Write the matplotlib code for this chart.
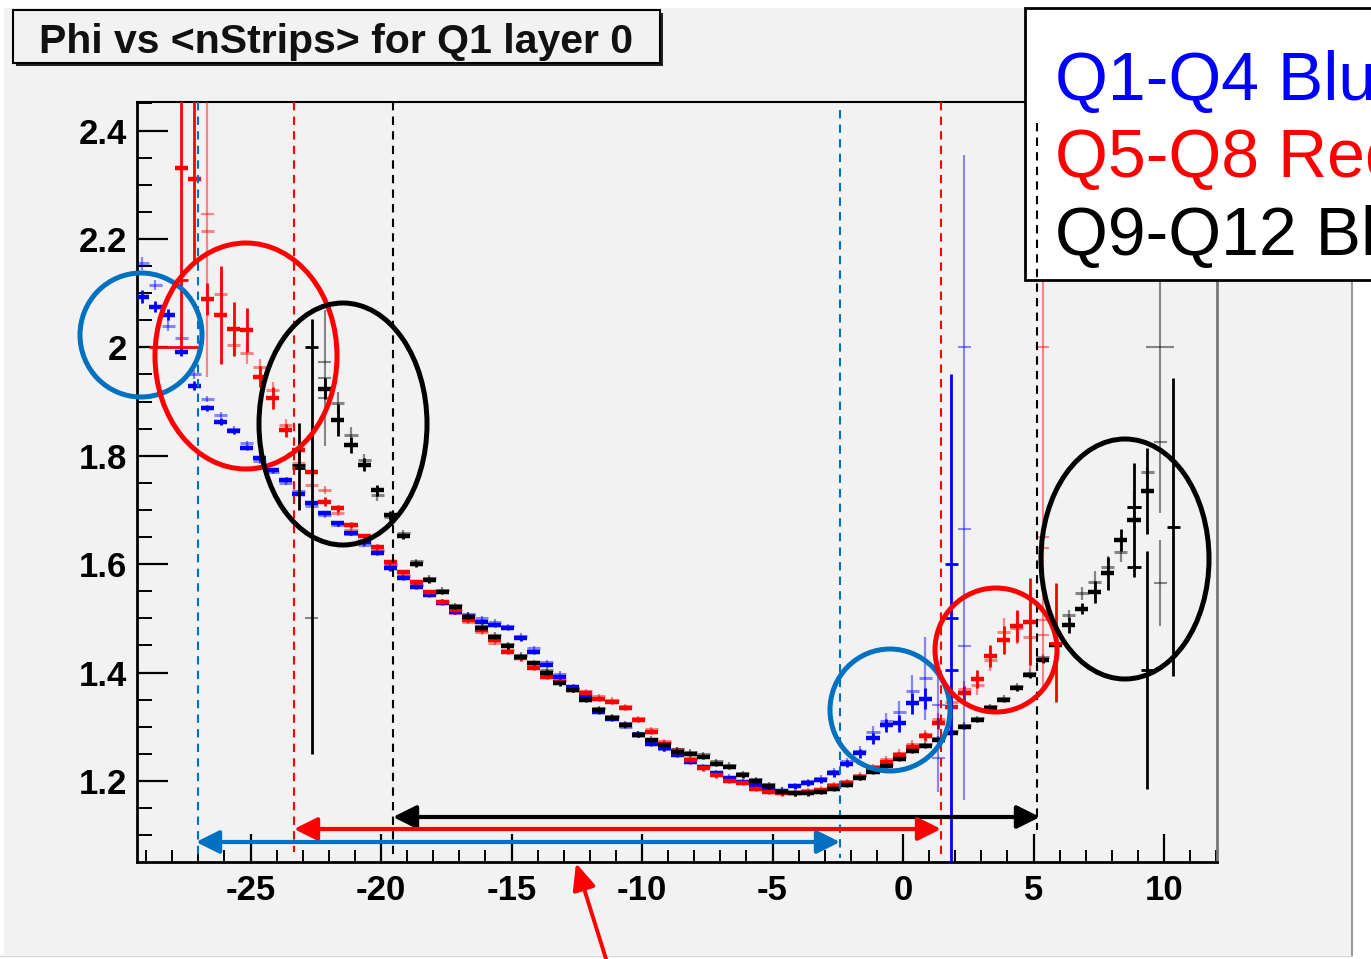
import numpy as np
import matplotlib
matplotlib.use("Agg")
import matplotlib.pyplot as plt
import matplotlib.transforms as mtransforms
from matplotlib.patches import Rectangle, Ellipse, FancyArrowPatch
from matplotlib.lines import Line2D
from matplotlib.ticker import FuncFormatter, MultipleLocator

plt.rcParams['font.family'] = ['Liberation Sans', 'DejaVu Sans']
plt.rcParams['axes.unicode_minus'] = False

# ---------------- data ----------------
title_text = "Phi vs <nStrips> for Q1 layer 0"
legend_labels = ["Q1-Q4 Blue", "Q5-Q8 Red", "Q9-Q12 Black"]
x_ticks = [-25, -20, -15, -10, -5, 0, 5, 10]
y_ticks = [1.2, 1.4, 1.6, 1.8, 2.0, 2.2, 2.4]

# profile bin centres (bin width 0.5)
phi_bins = np.round(np.arange(-29.15, 11.0, 0.5), 2)

# Blue (Q1-Q4) main profile, bins 0..60
blue_start = 0
blue_a = [2.093, 2.075, 2.060, 1.992, 1.929, 1.888, 1.863, 1.845, 1.815, 1.796,
          1.774, 1.756, 1.730, 1.712, 1.694, 1.675, 1.657, 1.640, 1.620, 1.592,
          1.574, 1.558, 1.543, 1.528, 1.512, 1.503, 1.494, 1.488, 1.482, 1.463,
          1.438, 1.414, 1.392, 1.374, 1.355, 1.328, 1.315, 1.303, 1.285, 1.269,
          1.260, 1.248, 1.235, 1.225, 1.214, 1.205, 1.198, 1.192, 1.186, 1.181,
          1.190, 1.196, 1.201, 1.214, 1.232, 1.251, 1.279, 1.303, 1.306, 1.343,
          1.352]
blue_a_err = [0.012, 0.010, 0.010, 0.008, 0.008, 0.006, 0.006, 0.005, 0.005, 0.005,
              0.004, 0.004, 0.004, 0.004, 0.004, 0.004, 0.004, 0.004, 0.004, 0.004,
              0.004, 0.004, 0.004, 0.004, 0.004, 0.004, 0.004, 0.004, 0.004, 0.004,
              0.004, 0.004, 0.004, 0.004, 0.004, 0.004, 0.004, 0.004, 0.004, 0.004,
              0.004, 0.004, 0.004, 0.004, 0.004, 0.004, 0.004, 0.004, 0.004, 0.004,
              0.004, 0.005, 0.005, 0.006, 0.007, 0.008, 0.010, 0.012, 0.015, 0.020,
              0.020]
blue_b = [2.155, 2.115, 2.040, 2.017, 1.950, 1.905, 1.875, 1.850, 1.823, 1.790,
          1.770, 1.750, 1.735, 1.708, 1.690, 1.672, 1.655, 1.635, 1.625, 1.598,
          1.578, 1.562, 1.547, 1.532, 1.516, 1.508, 1.500, 1.494, 1.486, 1.468,
          1.445, 1.420, 1.398, 1.370, 1.360, 1.332, 1.318, 1.300, 1.288, 1.272,
          1.258, 1.250, 1.238, 1.228, 1.216, 1.208, 1.200, 1.195, 1.188, 1.184,
          1.192, 1.199, 1.205, 1.218, 1.236, 1.256, 1.290, 1.310, 1.328, 1.365,
          1.389]
blue_b_err = [0.012, 0.010, 0.010, 0.008, 0.008, 0.006, 0.006, 0.005, 0.005, 0.005,
              0.004, 0.004, 0.004, 0.004, 0.004, 0.004, 0.004, 0.004, 0.004, 0.004,
              0.004, 0.004, 0.004, 0.004, 0.004, 0.004, 0.004, 0.004, 0.004, 0.004,
              0.004, 0.004, 0.004, 0.004, 0.004, 0.004, 0.004, 0.004, 0.004, 0.004,
              0.004, 0.004, 0.004, 0.004, 0.004, 0.004, 0.004, 0.004, 0.004, 0.004,
              0.004, 0.005, 0.005, 0.006, 0.007, 0.008, 0.012, 0.015, 0.020, 0.030,
              0.077]
# sparse blue bins with large errors
blue_ex_phi = [1.35, 1.35, 1.85, 1.85, 1.85, 2.35, 2.35, 2.35]
blue_ex_val = [1.340, 1.242, 1.500, 1.600, 1.405, 1.665, 2.000, 1.448]
blue_ex_lo = [0.160, 0.000, 0.450, 0.000, 0.000, 0.500, 0.000, 0.000]
blue_ex_hi = [0.080, 0.000, 0.450, 0.000, 0.000, 0.690, 0.000, 0.000]
blue_ex_dark = [False, False, True, True, True, False, False, False]

# Red (Q5-Q8) main profile, bins 3..68
red_start = 3
red_a = [2.330, 2.310, 2.089, 2.060, 2.034, 2.032, 1.946, 1.906, 1.847, 1.810,
         1.770, 1.715, 1.703, 1.672, 1.651, 1.632, 1.604, 1.586, 1.567, 1.549,
         1.531, 1.515, 1.497, 1.478, 1.460, 1.438, 1.426, 1.408, 1.392, 1.383,
         1.368, 1.362, 1.352, 1.346, 1.334, 1.312, 1.291, 1.269, 1.254, 1.239,
         1.223, 1.210, 1.200, 1.196, 1.186, 1.180, 1.177, 1.177, 1.180, 1.183,
         1.190, 1.197, 1.207, 1.223, 1.235, 1.248, 1.263, 1.282, 1.306, 1.337,
         1.362, 1.388, 1.430, 1.460, 1.486, 1.494]
red_a_err = [0.330, 0.150, 0.030, 0.090, 0.050, 0.040, 0.020, 0.020, 0.012, 0.010,
             0.008, 0.008, 0.006, 0.006, 0.005, 0.005, 0.004, 0.004, 0.004, 0.004,
             0.004, 0.004, 0.004, 0.004, 0.004, 0.004, 0.004, 0.004, 0.004, 0.004,
             0.004, 0.004, 0.004, 0.004, 0.004, 0.004, 0.004, 0.004, 0.004, 0.004,
             0.004, 0.004, 0.004, 0.004, 0.004, 0.004, 0.004, 0.004, 0.004, 0.004,
             0.004, 0.004, 0.005, 0.005, 0.006, 0.006, 0.007, 0.008, 0.010, 0.012,
             0.014, 0.016, 0.020, 0.025, 0.030, 0.080]
red_b_start = 5
red_b = [2.215, 2.098, 2.004, 1.990, 1.964, 1.921, 1.857, 1.786, 1.746, 1.737,
         1.694, 1.663, 1.641, 1.626, 1.600, 1.580, 1.562, 1.545, 1.528, 1.510,
         1.493, 1.474, 1.455, 1.442, 1.430, 1.412, 1.396, 1.388, 1.372, 1.366,
         1.357, 1.350, 1.338, 1.316, 1.295, 1.273, 1.258, 1.243, 1.226, 1.213,
         1.203, 1.199, 1.190, 1.183, 1.180, 1.180, 1.183, 1.186, 1.194, 1.200,
         1.211, 1.227, 1.240, 1.252, 1.268, 1.286, 1.315, 1.345, 1.370, 1.377,
         1.423, 1.475, 1.482, 1.466]
red_b_err = [0.270, 0.040, 0.020, 0.020, 0.015, 0.015, 0.010, 0.010, 0.008, 0.008,
             0.006, 0.006, 0.005, 0.005, 0.004, 0.004, 0.004, 0.004, 0.004, 0.004,
             0.004, 0.004, 0.004, 0.004, 0.004, 0.004, 0.004, 0.004, 0.004, 0.004,
             0.004, 0.004, 0.004, 0.004, 0.004, 0.004, 0.004, 0.004, 0.004, 0.004,
             0.004, 0.004, 0.004, 0.004, 0.004, 0.004, 0.004, 0.004, 0.004, 0.004,
             0.005, 0.005, 0.006, 0.006, 0.007, 0.008, 0.010, 0.012, 0.015, 0.018,
             0.020, 0.025, 0.030, 0.060]
red_ex_phi = [-27.95, -27.65, -26.65, 5.35, 5.35, 5.35, 5.35, 5.35, 5.85]
red_ex_val = [2.000, 2.124, 2.246, 2.000, 1.650, 1.629, 1.497, 1.469, 1.455]
red_ex_lo = [0.000, 0.000, 0.000, 0.632, 0.000, 0.000, 0.000, 0.000, 0.110]
red_ex_hi = [0.000, 0.000, 0.000, 0.600, 0.000, 0.000, 0.000, 0.000, 0.110]
red_ex_xerr = [0.95, 0.25, 0.25, 0.25, 0.25, 0.25, 0.25, 0.25, 0.25]
red_ex_dark = [True, True, False, False, False, False, False, False, True]

# Black (Q9-Q12) main profile, bins 14..77
black_start = 14
black_a = [1.924, 1.866, 1.820, 1.783, 1.736, 1.690, 1.652, 1.600, 1.571, 1.549,
           1.521, 1.503, 1.482, 1.466, 1.448, 1.429, 1.417, 1.400, 1.380, 1.368,
           1.350, 1.330, 1.316, 1.303, 1.285, 1.275, 1.266, 1.254, 1.250, 1.245,
           1.232, 1.226, 1.210, 1.200, 1.190, 1.180, 1.177, 1.177, 1.180, 1.186,
           1.192, 1.205, 1.217, 1.228, 1.240, 1.255, 1.265, 1.275, 1.288, 1.300,
           1.312, 1.334, 1.349, 1.371, 1.395, 1.423, 1.451, 1.488, 1.518, 1.549,
           1.583, 1.645, 1.681, 1.735]
black_a_err = [0.020, 0.030, 0.015, 0.012, 0.010, 0.008, 0.006, 0.005, 0.005, 0.004,
               0.004, 0.004, 0.004, 0.004, 0.004, 0.004, 0.004, 0.004, 0.004, 0.004,
               0.004, 0.004, 0.004, 0.004, 0.004, 0.004, 0.004, 0.004, 0.004, 0.004,
               0.004, 0.004, 0.004, 0.004, 0.004, 0.004, 0.004, 0.004, 0.004, 0.004,
               0.004, 0.004, 0.004, 0.004, 0.004, 0.004, 0.004, 0.004, 0.004, 0.004,
               0.004, 0.004, 0.004, 0.005, 0.005, 0.006, 0.008, 0.015, 0.010, 0.020,
               0.030, 0.020, 0.105, 0.080]
black_b_start = 15
black_b = [1.897, 1.838, 1.792, 1.727, 1.687, 1.657, 1.605, 1.575, 1.553, 1.525,
           1.507, 1.486, 1.470, 1.452, 1.433, 1.420, 1.404, 1.384, 1.372, 1.354,
           1.334, 1.320, 1.306, 1.289, 1.278, 1.270, 1.258, 1.254, 1.249, 1.236,
           1.230, 1.214, 1.204, 1.194, 1.184, 1.180, 1.180, 1.183, 1.190, 1.196,
           1.209, 1.221, 1.232, 1.245, 1.260, 1.268, 1.279, 1.292, 1.304, 1.316,
           1.338, 1.353, 1.375, 1.400, 1.428, 1.455, 1.506, 1.546, 1.567, 1.595,
           1.623, 1.706, 1.770]
black_b_err = [0.020, 0.015, 0.012, 0.010, 0.008, 0.006, 0.005, 0.005, 0.004, 0.004,
               0.004, 0.004, 0.004, 0.004, 0.004, 0.004, 0.004, 0.004, 0.004, 0.004,
               0.004, 0.004, 0.004, 0.004, 0.004, 0.004, 0.004, 0.004, 0.004, 0.004,
               0.004, 0.004, 0.004, 0.004, 0.004, 0.004, 0.004, 0.004, 0.004, 0.004,
               0.004, 0.004, 0.004, 0.004, 0.004, 0.004, 0.004, 0.004, 0.004, 0.004,
               0.004, 0.005, 0.005, 0.006, 0.006, 0.008, 0.010, 0.012, 0.020, 0.020,
               0.020, 0.030, 0.010]
black_ex_phi = [-23.15, -23.15, -22.65, -22.65, -22.15, -22.15, -22.15,
                8.85, 8.85, 9.35, 9.85, 9.85, 9.85, 10.35]
black_ex_val = [1.783, 1.777, 2.000, 1.500, 1.943, 1.973, 1.906,
                1.706, 1.595, 1.405, 2.000, 1.825, 1.565, 1.668]
black_ex_lo = [0.083, 0.000, 0.750, 0.000, 0.126, 0.000, 0.000,
               0.000, 0.000, 0.220, 0.306, 0.000, 0.080, 0.275]
black_ex_hi = [0.077, 0.000, 0.053, 0.000, 0.126, 0.000, 0.000,
               0.000, 0.000, 0.220, 0.600, 0.000, 0.080, 0.275]
black_ex_xerr = [0.25, 0.25, 0.25, 0.25, 0.25, 0.25, 0.25,
                 0.25, 0.25, 0.25, 0.55, 0.25, 0.25, 0.25]
black_ex_dark = [True, True, True, False, False, False, False,
                 True, True, True, False, False, False, True]

# ---------------- figure ----------------
W, H = 1371, 959
fig = plt.figure(figsize=(W / 100, H / 100), dpi=100)
fig.patch.set_facecolor('white')
pix = mtransforms.Affine2D().scale(1 / W, -1 / H).translate(0, 1) + fig.transFigure

# canvas
fig.add_artist(Rectangle((4, 8), 1348, 947, transform=pix, facecolor='#f2f2f2',
                         edgecolor='none', zorder=-2))
fig.add_artist(Line2D([1352, 1352], [280, 955], transform=pix, color='#9a9a9a', lw=1.5, zorder=-1))
fig.add_artist(Line2D([0, 1352], [956, 956], transform=pix, color='#d6d6d6', lw=1.0, zorder=-1))

ax_l, ax_r, ax_t, ax_b = 137, 1217, 102, 862
ax = fig.add_axes([ax_l / W, 1 - ax_b / H, (ax_r - ax_l) / W, (ax_b - ax_t) / H])
ax.set_facecolor('#f2f2f2')
ax.set_xlim(-29.35, 12.03)
ax.set_ylim(1.0504, 2.4526)

BLUE, RED, BLACK = '#0000ff', '#ff0000', '#000000'


def draw_series(start, vals, errs, color, alpha, hlw, vlw):
    phi = phi_bins[start:start + len(vals)]
    ax.errorbar(phi, vals, xerr=0.25, fmt='none', ecolor=color,
                elinewidth=hlw, alpha=alpha, capsize=0, zorder=3)
    ax.errorbar(phi, vals, yerr=errs, fmt='none', ecolor=color,
                elinewidth=vlw, alpha=alpha, capsize=0, zorder=3)


def draw_extra(phis, vals, los, his, xerrs, dark, color):
    for p, v, lo, hi, xe, d in zip(phis, vals, los, his, xerrs, dark):
        ax.errorbar([p], [v], xerr=xe, yerr=[[lo], [hi]], fmt='none', ecolor=color,
                    elinewidth=2.0 if d else 1.5, alpha=1.0 if d else 0.45,
                    capsize=0, zorder=3)


draw_series(blue_start, blue_b, blue_b_err, BLUE, 0.45, 2.2, 1.6)
draw_series(red_b_start, red_b, red_b_err, RED, 0.45, 2.2, 1.6)
draw_series(black_b_start, black_b, black_b_err, BLACK, 0.45, 2.2, 1.6)
draw_series(blue_start, blue_a, blue_a_err, BLUE, 1.0, 3.2, 2.0)
draw_series(red_start, red_a, red_a_err, RED, 1.0, 3.2, 2.0)
draw_series(black_start, black_a, black_a_err, BLACK, 1.0, 3.2, 2.0)
draw_extra(blue_ex_phi, blue_ex_val, blue_ex_lo, blue_ex_hi, [0.25] * len(blue_ex_phi),
           blue_ex_dark, BLUE)
draw_extra(red_ex_phi, red_ex_val, red_ex_lo, red_ex_hi, red_ex_xerr, red_ex_dark, RED)
draw_extra(black_ex_phi, black_ex_val, black_ex_lo, black_ex_hi, black_ex_xerr,
           black_ex_dark, BLACK)

# axes styling (ROOT look)
ax.set_xticks(x_ticks)
ax.set_yticks(y_ticks)
ax.xaxis.set_minor_locator(MultipleLocator(1))
ax.yaxis.set_minor_locator(MultipleLocator(0.05))
fmt = FuncFormatter(lambda v, _: f"{v:g}")
ax.xaxis.set_major_formatter(fmt)
ax.yaxis.set_major_formatter(fmt)
ax.tick_params(axis='y', which='major', direction='in', length=22, width=1.6,
               pad=7, labelsize=25)
ax.tick_params(axis='y', which='minor', direction='in', length=11, width=1.4)
ax.tick_params(axis='x', which='major', direction='in', length=20, width=1.6,
               pad=9, labelsize=25)
ax.tick_params(axis='x', which='minor', direction='in', length=9, width=1.4)
for lab in ax.get_xticklabels() + ax.get_yticklabels():
    lab.set_fontweight('bold')
for s in ['left', 'bottom']:
    ax.spines[s].set_linewidth(2.0)
ax.spines['top'].set_linewidth(1.5)
ax.spines['right'].set_linewidth(2.0)
ax.spines['right'].set_color('#777777')

# title box
fig.add_artist(Rectangle((16, 13), 647, 53, transform=pix, facecolor='#222222',
                         edgecolor='none', zorder=4))
fig.add_artist(Rectangle((13, 10), 647, 53, transform=pix, facecolor='#f2f2f2',
                         edgecolor='black', lw=1.5, zorder=5))
fig.text(336 / W, 1 - 53 / H, title_text, ha='center', va='baseline', fontsize=29.5,
         fontweight='bold', color='#111111', zorder=6)

# legend box (its right part is cut by the canvas edge, as in the original)
fig.add_artist(Rectangle((1025, 8), 400, 272, transform=pix, facecolor='white',
                         edgecolor='black', lw=2.0, zorder=5))
for lab, col, base in zip(legend_labels, [BLUE, RED, BLACK], [100, 177, 255]):
    fig.text(1055 / W, 1 - base / H, lab, ha='left', va='baseline', fontsize=49,
             color=col, zorder=6)

# ---------------- annotations (pixel coordinates) ----------------
ANN_BLUE = '#0070c0'
vlines = [(198, 102, 858, ANN_BLUE), (840, 110, 858, ANN_BLUE),
          (294, 102, 852, RED), (941, 102, 855, RED),
          (393, 102, 860, BLACK), (1037, 123, 830, BLACK)]
for x, y0, y1, c in vlines:
    fig.add_artist(Line2D([x, x], [y0, y1], transform=pix, color=c, lw=1.5,
                          ls=(0, (4, 3)), zorder=8))

arrows = [(393, 1040, 817, BLACK), (294, 941, 829, RED), (196, 840, 842, ANN_BLUE)]
for x0, x1, y, c in arrows:
    fig.add_artist(FancyArrowPatch((x0, y), (x1, y), transform=pix,
                                   arrowstyle='<|-|>,head_length=0.7,head_width=0.35',
                                   mutation_scale=20, color=c, lw=3.0, zorder=9,
                                   shrinkA=0, shrinkB=0))

ellipses = [(141, 335, 122, 124, ANN_BLUE), (246, 356, 182, 226, RED),
            (343, 424, 168, 242, BLACK), (890, 710, 120, 122, ANN_BLUE),
            (996, 650, 122, 124, RED), (1125, 559, 168, 240, BLACK)]
for cx, cy, w, h, c in ellipses:
    fig.add_artist(Ellipse((cx, cy), w, h, transform=pix, fill=False, edgecolor=c,
                           lw=3.6, zorder=9))

fig.add_artist(FancyArrowPatch((607, 962), (576, 863), transform=pix,
                               arrowstyle='-|>,head_length=0.8,head_width=0.35',
                               mutation_scale=20, color=RED, lw=2.8, zorder=9,
                               shrinkA=0, shrinkB=0))

fig.savefig('out.png', dpi=100, facecolor=fig.get_facecolor())
